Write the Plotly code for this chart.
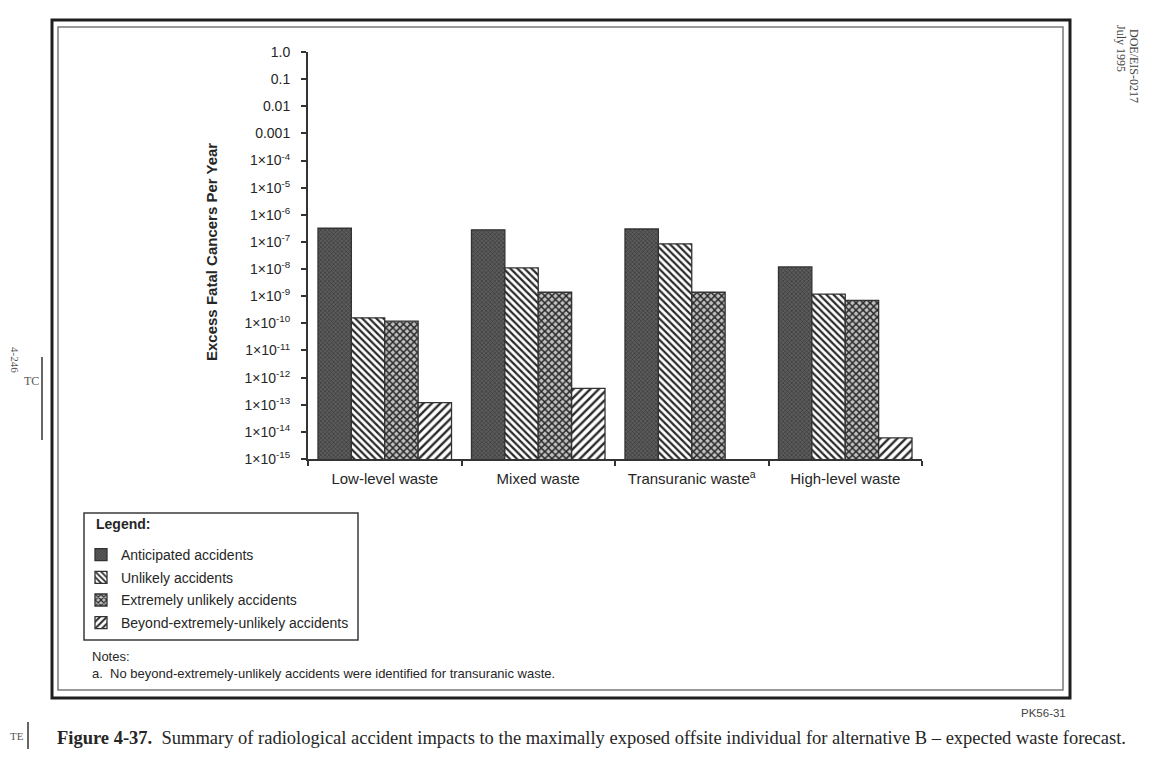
import plotly.graph_objects as go

# ---------------- data ----------------
categories = ["Low-level waste", "Mixed waste", "Transuranic waste<sup>a</sup>", "High-level waste"]
series_names = ["Anticipated accidents", "Unlikely accidents",
                "Extremely unlikely accidents", "Beyond-extremely-unlikely accidents"]
anticipated = [3.2e-7, 2.8e-7, 3.0e-7, 1.2e-8]
unlikely = [1.6e-10, 1.1e-8, 8.5e-8, 1.2e-9]
extremely_unlikely = [1.2e-10, 1.4e-9, 1.4e-9, 7.0e-10]
beyond_extremely_unlikely = [1.2e-13, 4.0e-13, None, 6.0e-15]

y_tickvals = [1.0, 0.1, 0.01, 0.001, 1e-4, 1e-5, 1e-6, 1e-7, 1e-8, 1e-9,
              1e-10, 1e-11, 1e-12, 1e-13, 1e-14, 1e-15]
y_ticktext = ["1.0", "0.1", "0.01", "0.001"] + [f"1×10<sup>-{k}</sup>" for k in range(4, 16)]

# ---------------- geometry helpers ----------------
# the page body adds an 8px margin around the figure
OFF = 8
W, H = 1157 - 2 * OFF, 757 - 2 * OFF
PLOT_LEFT, PLOT_RIGHT, PLOT_TOP, PLOT_BOTTOM = 308, 922, 52, 459   # in screenshot pixels
L = PLOT_LEFT - OFF
T = PLOT_TOP - OFF
PW = PLOT_RIGHT - PLOT_LEFT
PH = PLOT_BOTTOM - PLOT_TOP
R = W - L - PW
B = H - T - PH


def px(x):
    return (x - PLOT_LEFT) / PW


def py(y):
    return (PLOT_BOTTOM - y) / PH


SANS = "Liberation Sans, Arial, sans-serif"
SERIF = "Liberation Serif, Times New Roman, serif"
INK = "#262626"
EDGE = "#333333"

styles = [
    dict(color="#4f4f4f", pattern=dict(shape="x", size=3, solidity=0.3, fgcolor="#2e2e2e", bgcolor="#5c5c5c", fillmode="replace")),
    dict(color="white", pattern=dict(shape="\\", size=5, solidity=0.45, fgcolor="#2a2a2a", bgcolor="white", fillmode="replace")),
    dict(color="#b5b5b5", pattern=dict(shape="x", size=5, solidity=0.5, fgcolor="#2a2a2a", bgcolor="#c0c0c0", fillmode="replace")),
    dict(color="white", pattern=dict(shape="/", size=6, solidity=0.4, fgcolor="#2a2a2a", bgcolor="white", fillmode="replace")),
]
values = [anticipated, unlikely, extremely_unlikely, beyond_extremely_unlikely]

fig = go.Figure()
for i, (name, vals, st) in enumerate(zip(series_names, values, styles)):
    fig.add_trace(go.Bar(
        x=categories, y=vals, name=name,
        legendgroup=f"g{i}",
        marker=dict(color=st["color"], pattern=st["pattern"],
                    line=dict(color=EDGE, width=1.3)),
    ))

fig.update_layout(
    width=W, height=H,
    margin=dict(l=L, r=R, t=T, b=B, pad=0),
    paper_bgcolor="white", plot_bgcolor="rgba(0,0,0,0)",
    barmode="group", bargap=0.13, bargroupgap=0,
    font=dict(family=SANS, size=14, color=INK),
    showlegend=True,
    legend=dict(
        x=px(81), y=py(539), xanchor="left", yanchor="top",
        bgcolor="rgba(0,0,0,0)", borderwidth=0,
        font=dict(family=SANS, size=14, color=INK),
        traceorder="grouped", tracegroupgap=1.5, itemwidth=30,
    ),
    xaxis=dict(
        type="category", categoryorder="array", categoryarray=categories,
        showline=True, linecolor=EDGE, linewidth=2,
        ticks="outside", ticklen=5, tickwidth=1.5, tickcolor=EDGE, tickson="boundaries",
        ticklabelstandoff=5,
        showgrid=False, zeroline=False,
        tickfont=dict(family=SANS, size=15, color=INK),
    ),
    xaxis2=dict(
        overlaying="x", anchor="y", range=[-0.5, 3.5],
        tickmode="array", tickvals=[-0.5, 0.5, 1.5, 2.5, 3.5],
        ticks="inside", ticklen=5, tickwidth=1.5, tickcolor=EDGE,
        showticklabels=False, showgrid=False, zeroline=False, showline=False,
    ),
    yaxis=dict(
        type="log", range=[-15, 0],
        tickmode="array", tickvals=y_tickvals, ticktext=y_ticktext,
        showline=True, linecolor=EDGE, linewidth=2,
        ticks="outside", ticklen=5, tickwidth=1.5, tickcolor=EDGE,
        ticklabelstandoff=8,
        showgrid=False, zeroline=False,
        tickfont=dict(family=SANS, size=14, color=INK),
    ),
    yaxis2=dict(
        overlaying="y", anchor="x", side="left", type="log", range=[-15, 0],
        tickmode="array", tickvals=y_tickvals,
        ticks="inside", ticklen=5, tickwidth=1.5, tickcolor=EDGE,
        showticklabels=False, showgrid=False, zeroline=False, showline=False,
    ),
)

shapes = [
    # outer / inner frame
    dict(type="rect", xref="paper", yref="paper", x0=px(52), x1=px(1070), y0=py(698), y1=py(20),
         line=dict(color="#1e1e1e", width=3), fillcolor="rgba(0,0,0,0)", layer="below"),
    dict(type="rect", xref="paper", yref="paper", x0=px(58), x1=px(1063), y0=py(690), y1=py(27),
         line=dict(color="#7a7a7a", width=1.5), fillcolor="rgba(0,0,0,0)", layer="below"),
    # legend box
    dict(type="rect", xref="paper", yref="paper", x0=px(84), x1=px(358), y0=py(640), y1=py(513),
         line=dict(color="#3a3a3a", width=1.5), fillcolor="rgba(0,0,0,0)", layer="below"),
    # change bars in margins
    dict(type="line", xref="paper", yref="paper", x0=px(42), x1=px(42), y0=py(357), y1=py(440),
         line=dict(color="#333", width=1.5)),
    dict(type="line", xref="paper", yref="paper", x0=px(28), x1=px(28), y0=py(722), y1=py(752),
         line=dict(color="#333", width=1.5)),
]
fig.update_layout(shapes=shapes)


def ann(text, x, y, size, family=SANS, xanchor="left", yanchor="middle", angle=0, color=INK, **kw):
    fig.add_annotation(text=text, x=px(x), y=py(y), xref="paper", yref="paper",
                       showarrow=False, xanchor=xanchor, yanchor=yanchor, textangle=angle,
                       font=dict(family=family, size=size, color=color), **kw)


ann("<b>Excess Fatal Cancers Per Year</b>", 212, 252, 15, xanchor="center", angle=-90)
ann("<b>Legend:</b>", 94, 524, 14)
ann("Notes:", 90, 656, 13)
ann("a.  No beyond-extremely-unlikely accidents were identified for transuranic waste.", 90, 673, 13)
ann("PK56-31", 1043, 713, 11.5, xanchor="center", color="#444")
ann("<b>Figure 4-37.</b>  Summary of radiological accident impacts to the maximally exposed offsite "
    "individual for alternative B – expected waste forecast.", 55, 738, 18.5, family=SERIF)
ann("TE", 17, 736, 11, family=SERIF, xanchor="center", color="#555")
ann("TC", 31, 381, 12, family=SERIF, xanchor="center", color="#555")
ann("4-246", 15, 360, 11, family=SERIF, xanchor="center", angle=90, color="#555")
ann("DOE/EIS-0217", 1134, 66, 12, family=SERIF, xanchor="center", angle=90, color="#444")
ann("July 1995", 1121, 48, 12, family=SERIF, xanchor="center", angle=90, color="#444")

fig.write_html("out.html")
